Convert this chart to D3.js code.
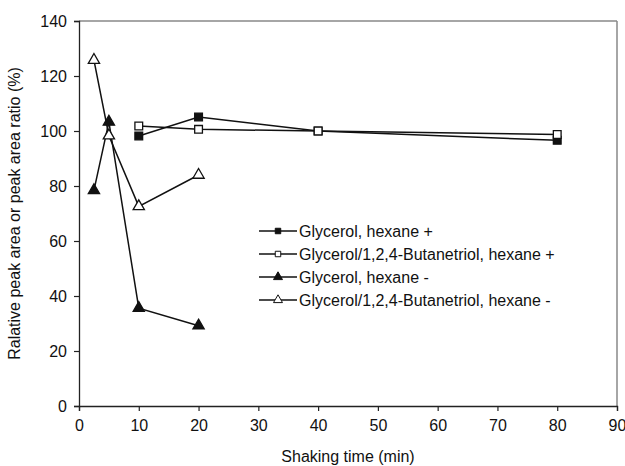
<!DOCTYPE html>
<html>
<head>
<meta charset="utf-8">
<script src="https://cdn.jsdelivr.net/npm/d3@7"></script>
<style>
  body { margin: 0; background: #fff; }
  text { font-family: "Liberation Sans", Arial, sans-serif; fill: #111; }
</style>
</head>
<body>
<script>
// Series
const glyPlusX = [10, 20, 40, 80]
const glyPlusY = [98.2, 105.1, 100, 96.6]
const butPlusX = [10, 20, 40, 80]
const butPlusY = [101.8, 100.6, 100, 98.7]
const glyMinusX = [2.5, 5, 10, 20]
const glyMinusY = [78.4, 103.3, 35.6, 29.2]
const butMinusX = [2.5, 5, 10, 20]
const butMinusY = [125.8, 98.3, 72.6, 84]

const seriesNames = [
	'Glycerol, hexane +',
	'Glycerol/1,2,4-Butanetriol, hexane +',
	'Glycerol, hexane -',
	'Glycerol/1,2,4-Butanetriol, hexane -'
]
const xTicks = [0, 10, 20, 30, 40, 50, 60, 70, 80, 90]
const yTicks = [0, 20, 40, 60, 80, 100, 120, 140]

const series = [
	{ name: seriesNames[0], xs: glyPlusX, ys: glyPlusY, shape: 'square', filled: true },
	{ name: seriesNames[1], xs: butPlusX, ys: butPlusY, shape: 'square', filled: false },
	{ name: seriesNames[2], xs: glyMinusX, ys: glyMinusY, shape: 'triangle', filled: true },
	{ name: seriesNames[3], xs: butMinusX, ys: butMinusY, shape: 'triangle', filled: false }
]

const W = 625, H = 466
const margin = { top: 21, right: 8, bottom: 60, left: 79 }
const width = W - margin.left - margin.right
const height = H - margin.top - margin.bottom

const svg = d3.select('body').append('svg').attr('width', W).attr('height', H)
const g = svg.append('g').attr('transform', `translate(${margin.left},${margin.top})`)

const x = d3.scaleLinear().domain([0, 90]).range([0, width])
const y = d3.scaleLinear().domain([0, 140]).range([height, 0])

// grey frame on top and right
g.append('line').attr('x1', 0).attr('x2', width).attr('y1', 0).attr('y2', 0)
	.attr('stroke', '#888').attr('stroke-width', 1.5)
g.append('line').attr('x1', width).attr('x2', width).attr('y1', 0).attr('y2', height)
	.attr('stroke', '#888').attr('stroke-width', 1.5)

// axes
const xaxis = d3.axisBottom(x).tickValues(xTicks).tickSize(5).tickPadding(9).tickFormat(d3.format('d'))
const yaxis = d3.axisLeft(y).tickValues(yTicks).tickSize(5).tickPadding(7).tickFormat(d3.format('d'))

const gx = g.append('g').attr('transform', `translate(0,${height})`).call(xaxis)
const gy = g.append('g').call(yaxis)
;[gx, gy].forEach(a => {
	a.select('.domain').attr('stroke', '#222').attr('stroke-width', 1.3)
	a.selectAll('.tick line').attr('stroke', '#222').attr('stroke-width', 1.2)
	a.selectAll('.tick text').style('font-size', '16px').style('font-family', '"Liberation Sans", Arial, sans-serif').attr('fill', '#111')
})

svg.append('text')
	.attr('x', margin.left + width / 2).attr('y', 462)
	.attr('text-anchor', 'middle').style('font-size', '16px')
	.text('Shaking time (min)')

svg.append('text')
	.attr('transform', `translate(20,${margin.top + height / 2}) rotate(-90)`)
	.attr('text-anchor', 'middle').style('font-size', '16px')
	.text('Ralative peak area or peak area ratio (%)')

const sym = {
	square: d3.symbol().type(d3.symbolSquare).size(60),
	triangle: d3.symbol().type(d3.symbolTriangle).size(55)
}
const line = d3.line().x(d => x(d[0])).y(d => y(d[1]))

series.forEach(s => {
	const pts = s.xs.map((v, i) => [v, s.ys[i]])
	g.append('path').datum(pts).attr('d', line)
		.attr('fill', 'none').attr('stroke', '#111').attr('stroke-width', 1.5)
	g.selectAll(null).data(pts).join('path')
		.attr('transform', d => `translate(${x(d[0])},${y(d[1])})`)
		.attr('d', sym[s.shape]())
		.attr('fill', s.filled ? '#111' : '#fff')
		.attr('stroke', '#111').attr('stroke-width', 1.3)
})

// legend
const legend = svg.append('g').attr('transform', 'translate(259,231)')
series.forEach((s, i) => {
	const row = legend.append('g').attr('transform', `translate(0,${i * 23})`)
	row.append('line').attr('x1', 0).attr('x2', 38).attr('y1', 0).attr('y2', 0)
		.attr('stroke', '#111').attr('stroke-width', 1.5)
	row.append('path').attr('transform', 'translate(19,0)')
		.attr('d', d3.symbol().type(s.shape === 'square' ? d3.symbolSquare : d3.symbolTriangle).size(s.shape === 'square' ? 30 : 35)())
		.attr('fill', s.filled ? '#111' : '#fff').attr('stroke', '#111').attr('stroke-width', 1)
	row.append('text').attr('x', 40).attr('y', 6).style('font-size', '16px').text(s.name)
})
</script>
</body>
</html>
